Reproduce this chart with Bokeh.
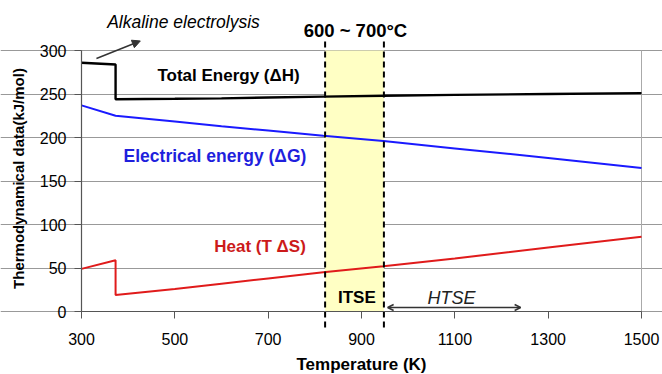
from bokeh.plotting import figure
from bokeh.models import Label, Arrow, NormalHead, OpenHead, BoxAnnotation, FixedTicker, Range1d
from bokeh.embed import file_html
from bokeh.resources import INLINE

# Data
temp = [300, 373, 373, 500, 600, 700, 818, 947, 1100, 1300, 1500]
total_h = [286, 284, 244, 244.5, 245, 246, 247, 248, 249, 250, 251]
elec_g = [237, 225, 225, 218.5, 213, 208, 202, 196, 187.5, 176.5, 165]
heat_ts = [49, 59, 19, 26, 32, 38, 45, 52, 61, 73.5, 86]

x_ticks = [300, 500, 700, 900, 1100, 1300, 1500]
y_ticks = [0, 50, 100, 150, 200, 250, 300]
band = [822, 948]
htse = [956, 1241]

FONT = "Liberation Sans"

p = figure(width=662, height=374, output_backend="svg", toolbar_location=None,
           x_range=Range1d(126.4, 1545), y_range=Range1d(-72.4, 357.5),
           min_border=0)
p.background_fill_color = "white"
p.border_fill_color = "white"
p.outline_line_color = None

p.add_layout(BoxAnnotation(left=band[0], right=band[1], bottom=0, top=300,
                           fill_color="#ffffc4", fill_alpha=1.0, line_color=None, level="underlay"))

# right border of plot box
p.segment(x0=[x_ticks[-1]], y0=[y_ticks[0]], x1=[x_ticks[-1]], y1=[y_ticks[-1]],
          line_color="#aaaaaa", line_width=1)

p.line(temp, total_h, line_color="black", line_width=2.4)
p.line(temp, elec_g, line_color="#1a1aff", line_width=2)
p.line(temp, heat_ts, line_color="#e01b1b", line_width=2)

# axes
p.xaxis.fixed_location = 0
p.yaxis.fixed_location = 300
p.xaxis.bounds = (300, 1500)
p.yaxis.bounds = (0, 300)
p.xaxis.ticker = FixedTicker(ticks=x_ticks)
p.yaxis.ticker = FixedTicker(ticks=y_ticks)
p.xgrid.grid_line_color = None
p.ygrid.grid_line_color = "#999999"
p.ygrid.grid_line_width = 1
p.ygrid.bounds = (300, 1500)
for ax in (p.xaxis[0], p.yaxis[0]):
    ax.axis_line_color = "#555555"
    ax.axis_line_width = 1.2
    ax.major_tick_line_color = "#555555"
    ax.minor_tick_line_color = None
    ax.major_tick_in = 0
    ax.major_tick_out = 7
    ax.major_label_text_font = FONT
    ax.major_label_text_font_size = "16px"
    ax.major_label_text_color = "black"
p.xaxis.major_label_standoff = 14
p.yaxis.major_label_standoff = 8

# dashed boundary lines (extend beyond plot box)
p.segment(x0=band, y0=[-18.4, -18.4], x1=band, y1=[314, 314],
          line_color="black", line_width=2, line_dash="6 4")

# HTSE double arrow
p.add_layout(Arrow(x_start=htse[0], y_start=4.6, x_end=htse[1], y_end=4.6,
                   start=OpenHead(size=6, line_color="#333333", line_width=1.5),
                   end=OpenHead(size=6, line_color="#333333", line_width=1.5),
                   line_color="#333333", line_width=1.5))
# Alkaline arrow
p.add_layout(Arrow(x_start=332, y_start=290.8, x_end=426, y_end=311,
                   end=NormalHead(size=8, fill_color="#333333", line_color="#333333"),
                   line_color="#333333", line_width=1.5))

def lab(x, y, t, color="black", style="bold", size="16px", angle=0):
    p.add_layout(Label(x=x, y=y, text=t, text_color=color, text_font=FONT,
                       text_font_style=style, text_font_size=size, angle=angle,
                       text_align="center", text_baseline="middle"))

lab(518.6, 333.3, "Alkaline electrolysis", style="italic", size="17.5px")
lab(887, 323, "600 ~ 700°C", size="18.5px")
lab(615, 271, "Total Energy (ΔH)", size="17px")
lab(586, 179.3, "Electrical energy (ΔG)", color="#1f1fdd", size="17.5px")
lab(682.5, 74.7, "Heat (T ΔS)", color="#cc1a1a", size="17px")
lab(890, 16, "ITSE", size="17px")
lab(1093, 16, "HTSE", style="italic", size="18px", color="#222222")
lab(900, -61, "Temperature (K)", size="17px")
lab(165, 152.9, "Thermodynamical data(kJ/mol)", size="15px", angle=1.5707963)

open("out.html", "w").write(file_html(p, INLINE))
